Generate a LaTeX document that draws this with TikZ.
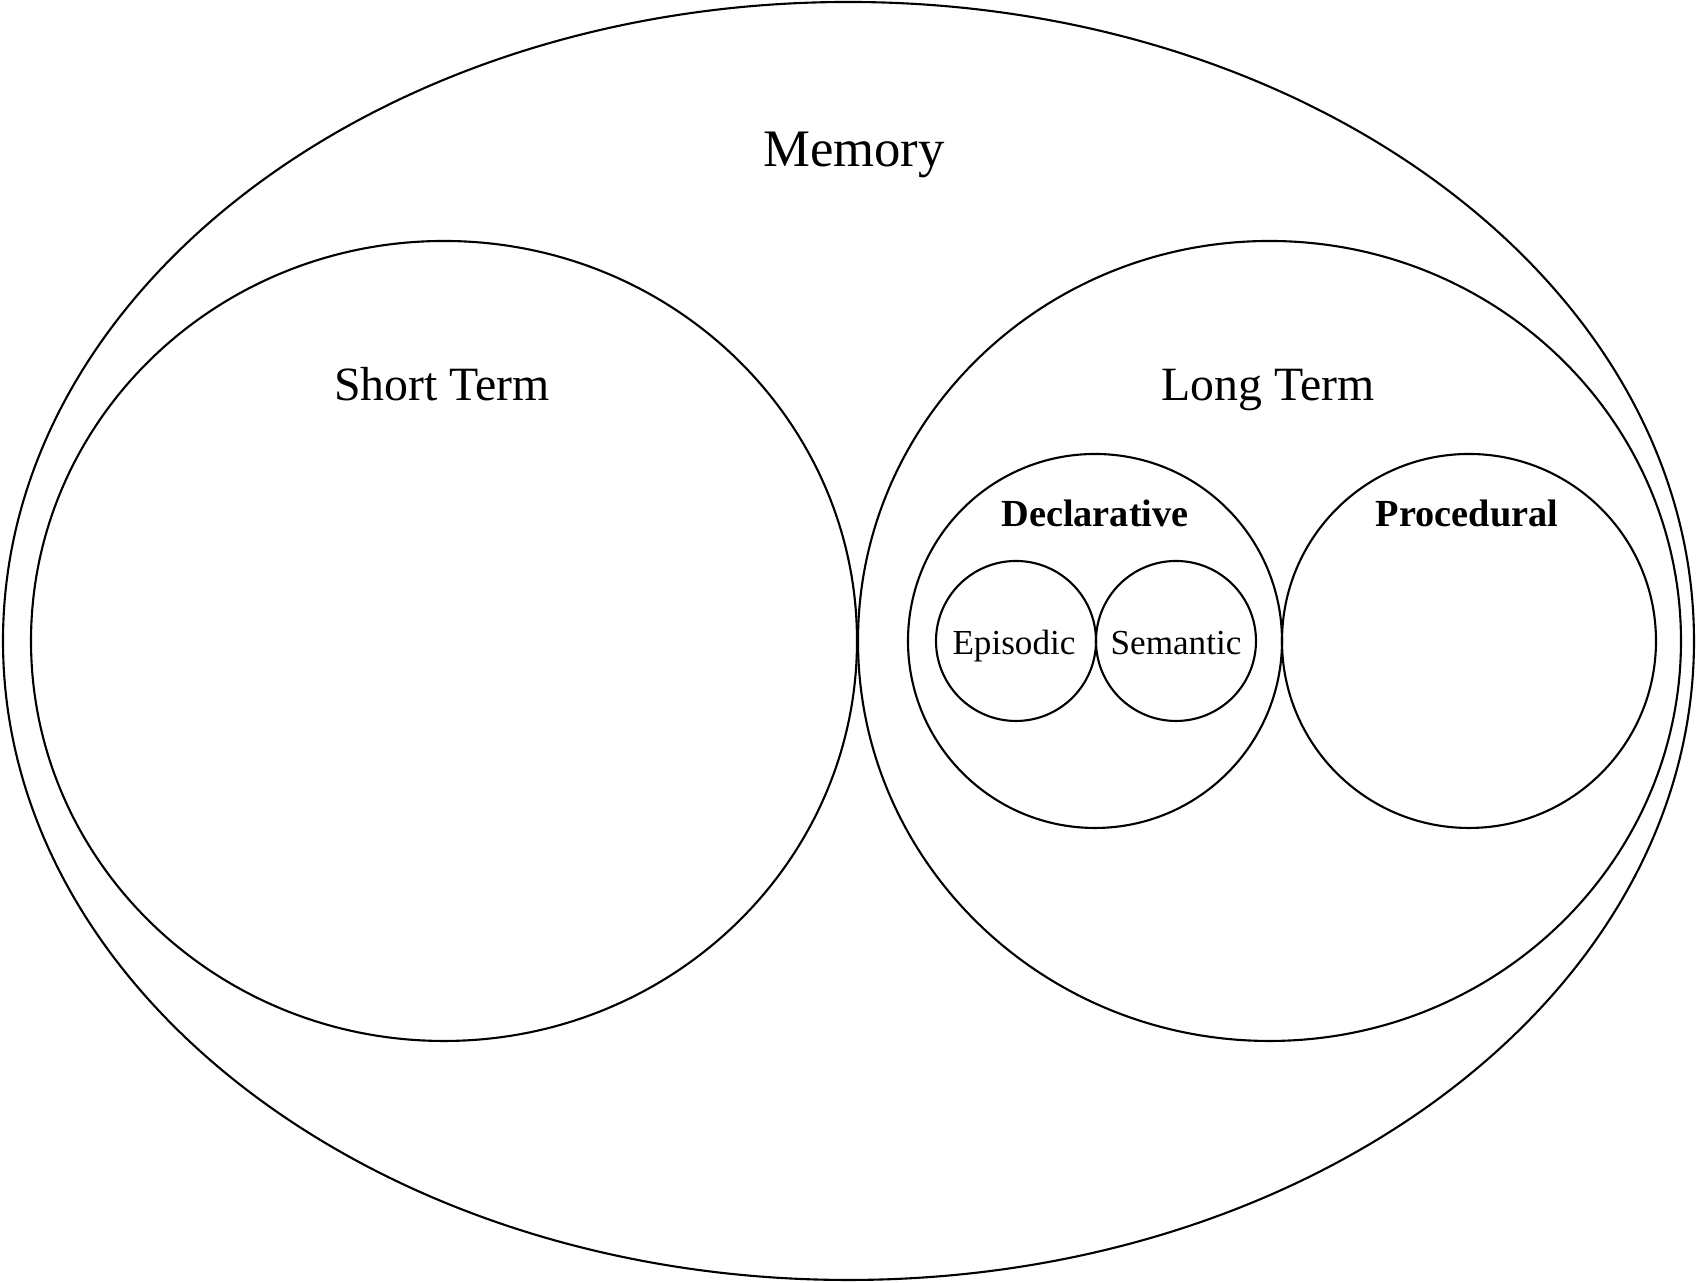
\documentclass[tikz,border=0pt]{standalone}
\usepackage{fontspec}
\setmainfont{Liberation Serif}
\usepackage{tikz}

\begin{document}
\begin{tikzpicture}[line width=0.6pt,
    toplabel/.style={anchor=base, font=\fontsize{15}{18}\selectfont},
    termlabel/.style={anchor=base, font=\fontsize{13.6}{16}\selectfont},
    kindlabel/.style={anchor=base, font=\fontsize{10.9}{13}\selectfont\bfseries},
    leaflabel/.style={anchor=base, font=\fontsize{10}{12}\selectfont}]
    \useasboundingbox (0,0) rectangle (16.96,12.83);

    % Whole memory
    \draw (8.485,6.42) ellipse (8.455 and 6.39);
    \node[toplabel] (memory) at (8.54,11.16) {Memory};

    % Short term
    \draw (4.44,6.42) ellipse (4.13 and 4.0);
    \node[termlabel] (shortterm) at (4.42,8.82) {Short Term};

    % Long term
    \draw (12.695,6.42) ellipse (4.115 and 4.0);
    \node[termlabel] (longterm) at (12.68,8.82) {Long Term};

    % Declarative and procedural
    \draw (10.95,6.42) circle (1.87);
    \node[kindlabel] (declarative) at (10.95,7.56) {Declarative};
    \draw (14.69,6.42) circle (1.87);
    \node[kindlabel] (procedural) at (14.67,7.56) {Procedural};

    % Episodic and semantic
    \draw (10.16,6.42) circle (0.80);
    \node[leaflabel] (episodic) at (10.14,6.28) {Episodic};
    \draw (11.76,6.42) circle (0.80);
    \node[leaflabel] (semantic) at (11.76,6.28) {Semantic};
\end{tikzpicture}
\end{document}
